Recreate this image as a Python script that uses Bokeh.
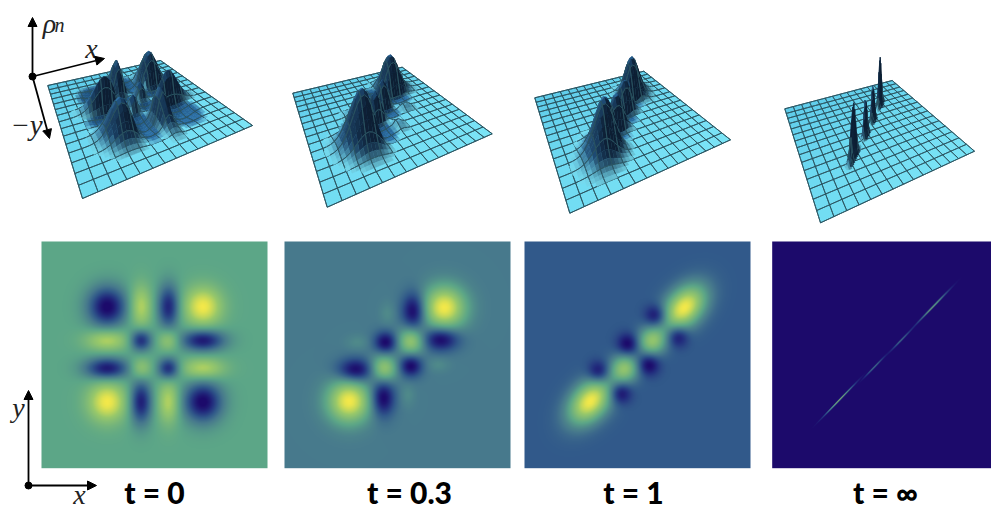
import numpy as np
from bokeh.plotting import figure
from bokeh.models import Range1d, LinearColorMapper, Arrow, NormalHead, ColumnDataSource
from bokeh.core.properties import value
from bokeh.embed import file_html
from bokeh.resources import INLINE

# ---------- data ----------
time_labels = ["t = 0", "t = 0.3", "t = 1", "t = ∞"]

# Lobes of each density map: centre (fraction of the map, v runs downward), height,
# spread along two axes, and the tilt of the first axis in degrees.
t0_u = [.290, .438, .561, .712, .290, .438, .561, .712, .290, .438, .561, .712, .290, .438, .561, .712]
t0_v = [.290, .290, .290, .290, .437, .437, .437, .437, .562, .562, .562, .562, .709, .709, .709, .709]
t0_h = [-1.25, .72, -1.05, 1.0, .72, -1.05, .58, -1.15, -1.15, .58, -1.05, .72, 1.0, -1.1, .72, -1.25]
t0_su = [.060, .034, .034, .060, .068, .034, .034, .068, .068, .034, .034, .068, .060, .034, .034, .060]
t0_sv = [.062, .068, .068, .062, .034, .034, .034, .034, .034, .034, .034, .034, .062, .068, .068, .062]
t0_a = [0] * 16
# heights of the same lobes on the first surface
t0_surface_h = [-1.0, .72, -1.0, .72, .72, -1.0, .5, -1.0, -1.0, .5, -1.0, .72, .72, -1.0, .72, -1.0]

t03_u = [.285, .705, .315, .434, .570, .689, .447, .556, .438, .559, .454, .322, .677, .543]
t03_v = [.706, .294, .569, .691, .309, .432, .447, .550, .562, .441, .320, .447, .545, .680]
t03_h = [1.0, 1.0, -.66, -.66, -.66, -.66, -.62, -.62, .68, .68, .11, .11, .11, .11]
t03_su = [.066, .066, .056, .036, .036, .056, .036, .036, .042, .042, .024, .036, .036, .024]
t03_sv = [.066, .066, .036, .056, .056, .036, .034, .034, .042, .042, .036, .024, .024, .036]
t03_a = [0] * 14

t1_u = [.290, .705, .580, .675, .458, .546, .329, .422, .562, .442]
t1_v = [.706, .294, .331, .419, .456, .544, .577, .669, .441, .562]
t1_h = [1.0, 1.0, -.40, -.40, -.40, -.40, -.40, -.40, .66, .66]
t1_su = [.082, .082, .034, .034, .034, .034, .034, .034, .046, .046]
t1_sv = [.054, .054, .034, .034, .034, .034, .034, .034, .044, .044]
t1_a = [48, 48, 45, 45, 45, 45, 45, 45, 45, 45]

tinf_u = [.296, .450, .568, .708]
tinf_v = [.700, .555, .437, .290]
tinf_h = [.82, .44, .44, .82]
tinf_su = [.060, .040, .040, .060]
tinf_sv = [.0018, .0018, .0018, .0018]
tinf_a = [46, 46, 46, 46]

# Spikes of the last surface, wider than the streaks so that its mesh can hold them.
spike_h = [1.1, .80, .80, 1.0]
spike_su = [.034, .024, .024, .034]
spike_sv = [.006, .006, .006, .006]

# colour scale positions where each map's background falls
map_low = [-1.22, -.59, -.33, 0.0]
map_high = [1.0, 1.0, 1.0, 1.0]

# ---------- layout ----------
W, H = 991, 510
def Y(py):
    return 510 - np.asarray(py, dtype=float)

p = figure(width=W, height=H, x_range=Range1d(0, 991), y_range=Range1d(0, 510),
           output_backend="svg", toolbar_location=None, min_border=0,
           x_axis_type=None, y_axis_type=None, outline_line_color=None)
p.grid.visible = False
p.background_fill_color = "white"
p.border_fill_color = "white"

map_left = [41, 284, 524, 771.7]
map_right = [267, 510, 750, 991]
map_top, map_bottom, map_size = 241, 467.7, 226.7

floor_left = [(47.3, 85), (292.3, 92.7), (534.3, 97.3), (784.3, 108.3)]
floor_back = [(160, 60), (401.7, 66.7), (643.3, 70.7), (891.7, 80)]
floor_front = [(82, 198), (326.7, 206.7), (569.3, 212.7), (820, 222.3)]
floor_right = [(252, 125), (491.7, 133.3), (730, 139.3), (974, 150.7)]
rise_far = [38, 22, 29, 44]
rise_near = [52, 65, 58, 60]
mesh_sub = [3, 3, 3, 6]
dip_scale = .12
CELLS = 15

# ---------- colours ----------
stops = [0, .12, .25, .37, .55, .80, .93, 1]
stop_cols = ["#1c0a6b", "#23307f", "#315a8a", "#47798c", "#5ca687", "#98c86a", "#d0dc55", "#f2e84a"]

def rgb(h):
    return np.array([int(h[i:i + 2], 16) for i in (1, 3, 5)], dtype=float)

def to_hex(c):
    c = np.clip(np.round(c), 0, 255).astype(int)
    return "#%02x%02x%02x" % (c[0], c[1], c[2])

arr = np.array([rgb(c) for c in stop_cols])
fr = np.linspace(0, 1, 256)
palette = [to_hex(np.array([np.interp(f, stops, arr[:, k]) for k in range(3)])) for f in fr]


def field(u, v, lu, lv, lh, su, sv, ang):
    out = np.zeros_like(u, dtype=float)
    for a, b, h, s, t, g in zip(lu, lv, lh, su, sv, ang):
        r = np.deg2rad(g)
        du, dv = u - a, -(v - b)
        al = du * np.cos(r) + dv * np.sin(r)
        ac = -du * np.sin(r) + dv * np.cos(r)
        out += h * np.exp(-.5 * (al / s) ** 2 - .5 * (ac / t) ** 2)
    return out


def homography(c):
    src = [(0, 0), (1, 0), (0, 1), (1, 1)]
    A, B = [], []
    for (a, b), (x, y) in zip(src, c):
        A.append([a, b, 1, 0, 0, 0, -a * x, -b * x]); B.append(x)
        A.append([0, 0, 0, a, b, 1, -a * y, -b * y]); B.append(y)
    return np.append(np.linalg.solve(np.array(A, float), np.array(B, float)), 1).reshape(3, 3)


def project(M, u, v):
    w = M[2, 0] * u + M[2, 1] * v + M[2, 2]
    return (M[0, 0] * u + M[0, 1] * v + M[0, 2]) / w, (M[1, 0] * u + M[1, 1] * v + M[1, 2]) / w


lobes = [
    (t0_u, t0_v, t0_h, t0_su, t0_sv, t0_a),
    (t03_u, t03_v, t03_h, t03_su, t03_sv, t03_a),
    (t1_u, t1_v, t1_h, t1_su, t1_sv, t1_a),
    (tinf_u, tinf_v, tinf_h, tinf_su, tinf_sv, tinf_a),
]
surface_lobes = [(t0_u, t0_v, t0_surface_h, t0_su, t0_sv, t0_a)] + lobes[1:3] + \
    [(tinf_u, tinf_v, spike_h, spike_su, spike_sv, tinf_a)]

# ---------- density maps ----------
for i in range(4):
    width = map_right[i] - map_left[i]
    nx = int(round(width * 3))
    ny = int(round(map_size * 3))
    uu = (np.arange(nx) + .5) / nx * width / map_size
    vv = (np.arange(ny) + .5) / ny
    U, V = np.meshgrid(uu, vv[::-1])
    Z = field(U, V, *lobes[i])
    mapper = LinearColorMapper(palette=palette, low=map_low[i], high=map_high[i])
    p.image(image=[Z], x=map_left[i], y=float(Y(map_bottom)), dw=width, dh=map_size, color_mapper=mapper)

# ---------- surfaces ----------
CYAN = rgb("#7ce5f7")
CYAN_D = rgb("#5ac8e8")
MID = rgb("#2a6aa0")
DARK = rgb("#0d1e33")
LIGHT = rgb("#4a8cba")
GRID = "#29525f"
for i in range(4):
    M = homography([floor_left[i], floor_back[i], floor_front[i], floor_right[i]])
    xs, ys, fills, lines, lws = [], [], [], [], []
    for a in range(CELLS):
        for b in range(CELLS):
            u0, u1, v0, v1 = a / CELLS, (a + 1) / CELLS, b / CELLS, (b + 1) / CELLS
            qx, qy = project(M, np.array([u0, u1, u1, u0]), np.array([v0, v0, v1, v1]))
            t = np.clip(.15 + .75 * (v0 * .8 + u0 * .35), 0, 1)
            col = to_hex(CYAN_D * (1 - t) + CYAN * t)
            xs.append(list(qx)); ys.append(list(Y(qy))); fills.append(col); lines.append(col); lws.append(.4)
    sub = mesh_sub[i]
    n = CELLS * sub
    g = np.linspace(0, 1, n + 1)
    U, V = np.meshgrid(g, g, indexing="ij")
    raw = field(U, V, *surface_lobes[i])
    H_ = np.where(raw < 0, raw * dip_scale, raw)
    SX, SY = project(M, U, V)
    rise = rise_far[i] + (rise_near[i] - rise_far[i]) * (.5 * (V - U + 1))
    SY = SY - H_ * rise
    thr = .012
    items = []
    dHu = np.gradient(H_, g, axis=0)
    dHv = np.gradient(H_, g, axis=1)
    cell = 1 / n
    for a in range(n):
        for b in range(n):
            hs = H_[a:a + 2, b:b + 2]
            rs = raw[a:a + 2, b:b + 2]
            if np.abs(hs).max() < thr:
                continue
            h = rs.mean()
            s = (dHu[a:a + 2, b:b + 2].mean() + dHv[a:a + 2, b:b + 2].mean())
            f = (dHv[a:a + 2, b:b + 2].mean() - dHu[a:a + 2, b:b + 2].mean())
            mix = np.clip(abs(h) * 5, 0, 1)
            base = CYAN * (1 - mix) + MID * mix
            k = np.clip(-s / 8, 0, 1) ** .7
            col = base * (1 - k) + DARK * k
            k2 = np.clip(s / 14, 0, .6)
            col = col * (1 - k2) + LIGHT * k2
            k3 = np.clip(-f / 14, 0, .7)
            col = col * (1 - k3) + DARK * k3
            c = to_hex(col)
            qx = [SX[a, b], SX[a + 1, b], SX[a + 1, b + 1], SX[a, b + 1]]
            qy = [SY[a, b], SY[a + 1, b], SY[a + 1, b + 1], SY[a, b + 1]]
            d = (a + .5) / n - (b + .5) / n
            items.append((d, qx, qy, c, c, .4))
    flat_segments = []
    for a in range(0, n + 1, sub):
        for b in range(n):
            e0, e1 = (a, b), (a, b + 1)
            flat = max(abs(H_[e0]), abs(H_[e1])) < thr
            x = [SX[e0], SX[e1]]; y = [SY[e0], SY[e1]]
            d = a / n - (b + .5) / n - 1.2 * cell
            (flat_segments.append((x, y)) if flat else items.append((d, x, y, "#000000", GRID, .8)))
    for b in range(0, n + 1, sub):
        for a in range(n):
            e0, e1 = (a, b), (a + 1, b)
            flat = max(abs(H_[e0]), abs(H_[e1])) < thr
            x = [SX[e0], SX[e1]]; y = [SY[e0], SY[e1]]
            d = (a + .5) / n - b / n - 1.2 * cell
            (flat_segments.append((x, y)) if flat else items.append((d, x, y, "#000000", GRID, .8)))
    for x, y in flat_segments:
        xs.append(list(map(float, x))); ys.append(list(Y(y))); fills.append(GRID); lines.append(GRID); lws.append(.9)
    items.sort(key=lambda it: -it[0])
    for d, x, y, fc, lc, lw in items:
        xs.append(list(map(float, x))); ys.append(list(Y(y))); fills.append(fc); lines.append(lc); lws.append(lw)
    src = ColumnDataSource(dict(xs=xs, ys=ys, fill=fills, line=lines, lw=lws))
    p.patches("xs", "ys", source=src, fill_color="fill", line_color="line", line_width="lw")

# ---------- axis sketches ----------
def arrow(x0, y0, x1, y1, size=9):
    p.add_layout(Arrow(end=NormalHead(size=size, fill_color="black", line_color="black"),
                       x_start=x0, y_start=float(Y(y0)), x_end=x1, y_end=float(Y(y1)),
                       line_color="black", line_width=1.8))

arrow(32, 76, 32, 17)
arrow(32, 76, 104, 58)
arrow(32, 76, 49, 138)
arrow(28, 485, 28, 390)
arrow(28, 485, 96, 485)
p.scatter([32, 28], Y([76, 485]).tolist(), size=7, color="black")

serif = value("Liberation Serif")
def label(x, py, s, size, font=serif, style="italic", align="center", color="#222222"):
    p.text([x], [float(Y(py))], text=[s], text_font=font, text_font_size=size,
           text_font_style=style, text_align=align,
           text_baseline="middle", text_color=color)

label(49, 23, "ρ", "28px")
label(59, 24, "n", "20px")
label(91, 48, "x", "28px")
label(26, 124, "−y", "29px")
label(18, 407, "y", "28px")
label(79, 494, "x", "28px")

label_x = [154, 409, 633, 885]
for x, s in zip(label_x, time_labels):
    label(x, 491, s, "30px", font=value("Lato Black"), style="bold", color="#000000")

open("out.html", "w").write(file_html(p, INLINE))
